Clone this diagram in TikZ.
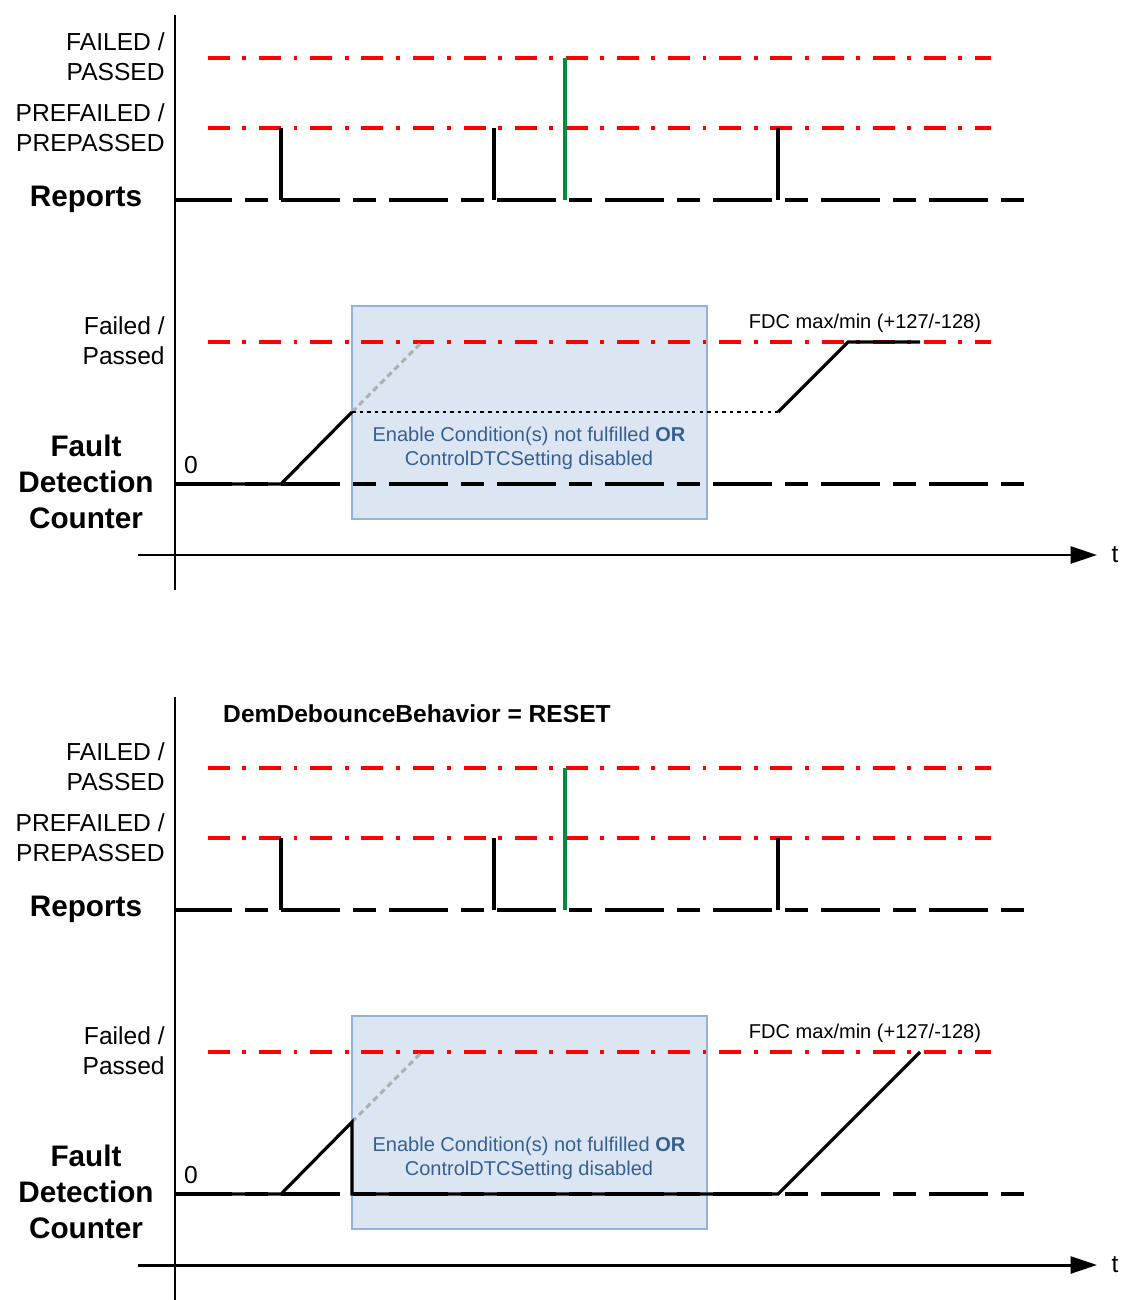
\documentclass[tikz,border=0pt]{standalone}
\usepackage{fontspec}
\setmainfont{Liberation Sans}
\usetikzlibrary{arrows.meta, positioning}

\definecolor{levelred}{RGB}{255,0,0}
\definecolor{pulsegreen}{RGB}{0,140,60}
\definecolor{inhibitfill}{RGB}{220,230,242}
\definecolor{inhibitedge}{RGB}{149,179,215}
\definecolor{inhibittext}{RGB}{55,96,146}
\definecolor{ghostgray}{RGB}{175,175,175}

\tikzset{
  level/.style={levelred, line width=2.1pt, dash pattern=on 12.5pt off 7.1pt on 2.2pt off 7.3pt},
  zeroline/.style={black, line width=1.8pt, dash pattern=on 33.4pt off 7.4pt on 13pt off 7.7pt, dash phase=1.1pt},
  signal/.style={black, line width=1.8pt},
  pulse/.style={pulsegreen, line width=1.9pt},
  ghost/.style={ghostgray, line width=1.7pt, dash pattern=on 3.4pt off 2.3pt},
  frozen/.style={black, line width=1.5pt, dash pattern=on 2pt off 2.3pt},
  inhibit/.style={fill=inhibitfill, draw=inhibitedge, line width=1.2pt},
  axis/.style={black, line width=1.7pt},
  lbl/.style={anchor=east, align=right, inner sep=0pt, font=\fontsize{14}{17}\selectfont},
  head/.style={align=center, inner sep=0pt, font=\bfseries\fontsize{16.9}{20.4}\selectfont},
  note/.style={inner sep=0pt, font=\fontsize{11.4}{13.6}\selectfont},
}

\begin{document}
\begin{tikzpicture}[x=0.02cm, y=-0.02cm]
  \useasboundingbox (0,0) rectangle (1122,1300);

  % both panels share the same frame
  \foreach \dy in {0,710} {
    \begin{scope}[shift={(0,\dy)}]
      \draw[inhibit] (352,306) rectangle (707,519);
      \node[note, text=inhibittext, align=center] (why\dy) at (529,448)
        {Enable Condition(s) not fulfilled \textbf{OR}\\ControlDTCSetting disabled};

      % thresholds
      \draw[level] (208,58) -- (991,58);
      \draw[level] (208,128) -- (991,128);
      \draw[level] (208,342) -- (991,342);

      % reference lines
      \draw[zeroline] (175,200) -- (1026,200);
      \draw[zeroline] (175,484) -- (1026,484);

      % reports
      \draw[signal] (281,128) -- (281,200);
      \draw[signal] (494,128) -- (494,200);
      \draw[signal] (778,128) -- (778,200);
      \draw[pulse] (565,58) -- (565,200);

      % time axis
      \draw[axis, -{Triangle[length=15pt, width=9.6pt]}] (138,555) -- (1097,555);
      \node[inner sep=0pt, font=\fontsize{14}{17}\selectfont] (t\dy) at (1115,555) {t};

      \node[lbl] (final\dy) at (165,57) {FAILED /\\PASSED};
      \node[lbl] (pre\dy) at (165,128) {PREFAILED /\\PREPASSED};
      \node[head] (rep\dy) at (86,199) {Reports};
      \node[lbl] (lim\dy) at (165,341) {Failed /\\Passed};
      \node[head] (fdc\dy) at (86,482) {Fault\\Detection\\Counter};
      \node[inner sep=0pt, font=\fontsize{14}{17}\selectfont] (zero\dy) at (191,465) {0};
      \node[note] (max\dy) at (865,323) {FDC max/min (+127/-128)};
    \end{scope}
  }

  % vertical axes
  \draw[axis] (175,15) -- (175,590);
  \draw[axis] (175,697) -- (175,1300);

  % FDC, freeze
  \draw[ghost] (352,412) -- (422,342);
  \draw[signal] (175,484) -- (281,484) -- (352,412);
  \draw[frozen] (352,412) -- (778,412);
  \draw[signal] (778,412) -- (848,342) -- (920,342);

  % FDC, reset
  \node[inner sep=0pt, font=\bfseries\fontsize{14}{17}\selectfont] (mode) at (417,714)
    {DemDebounceBehavior = RESET};
  \draw[ghost] (352,1122) -- (422,1052);
  \draw[signal] (175,1194) -- (281,1194) -- (352,1122) -- (352,1194) -- (778,1194) -- (920,1052);
\end{tikzpicture}
\end{document}
